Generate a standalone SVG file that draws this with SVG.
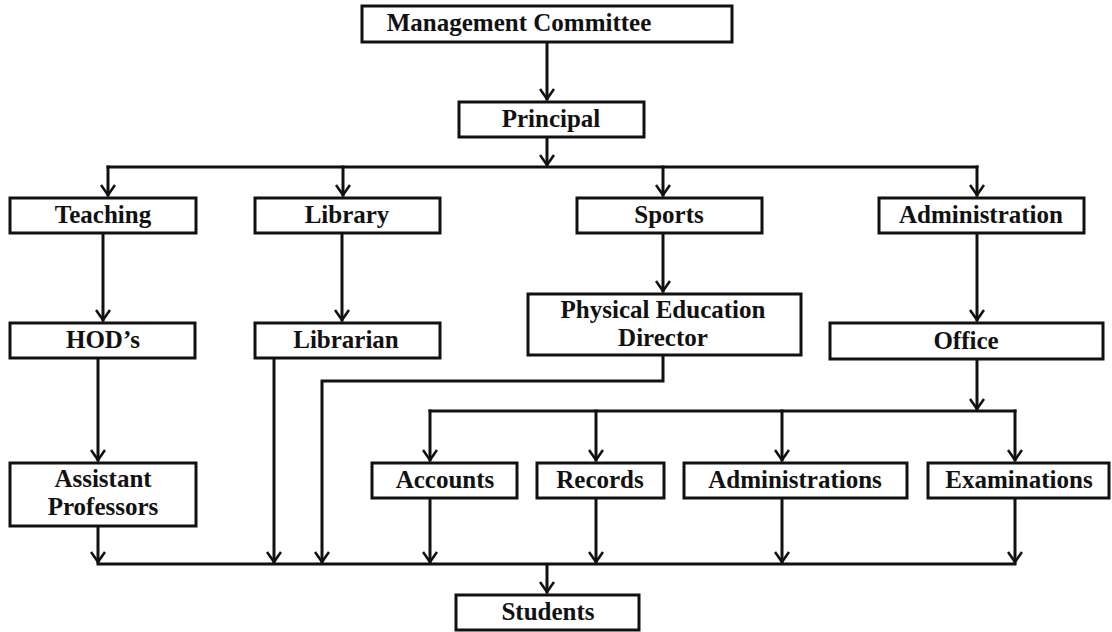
<svg xmlns="http://www.w3.org/2000/svg" width="1112" height="632" viewBox="0 0 1112 632">
<style>
.box{fill:#fff;stroke:#111;stroke-width:3}
.t{font-family:"Liberation Serif","Times New Roman",serif;font-weight:bold;font-size:25px;fill:#111;text-anchor:middle}
.c{fill:none;stroke:#111;stroke-width:3;stroke-linecap:square}
.a{marker-end:url(#arr)}
</style>
<defs>
<marker id="arr" markerUnits="userSpaceOnUse" viewBox="0 0 14 16" refX="12" refY="8" markerWidth="14" markerHeight="16" orient="auto">
<path d="M2,1 L12,8 L2,15" fill="none" stroke="#111" stroke-width="2.6" stroke-linejoin="miter"/>
</marker>
</defs>
<rect width="1112" height="632" fill="#fff"/>
<g id="connectors">
<path class="c a" d="M547,43 V99"/>
<path class="c a" d="M547,138 V165"/>
<path class="c" d="M108,167 H977"/>
<path class="c a" d="M108,167 V195"/>
<path class="c a" d="M343,167 V195"/>
<path class="c a" d="M663,167 V195"/>
<path class="c a" d="M977,167 V195"/>
<path class="c a" d="M103,234 V320"/>
<path class="c a" d="M342,234 V320"/>
<path class="c a" d="M663,234 V291"/>
<path class="c a" d="M977,234 V320"/>
<path class="c a" d="M98,359 V460"/>
<path class="c a" d="M977,360 V409"/>
<path class="c" d="M430,411 H1015"/>
<path class="c a" d="M430,411 V460"/>
<path class="c a" d="M596,411 V460"/>
<path class="c a" d="M782,411 V460"/>
<path class="c a" d="M1015,411 V460"/>
<path class="c a" d="M98,527 V562"/>
<path class="c a" d="M274,359 V562"/>
<path class="c a" d="M663,356 V381 H322 V562"/>
<path class="c a" d="M430,499 V562"/>
<path class="c a" d="M596,499 V562"/>
<path class="c a" d="M782,499 V562"/>
<path class="c a" d="M1015,499 V562"/>
<path class="c" d="M98,564 H1015"/>
<path class="c a" d="M547,565 V592"/>
</g>
<g id="management-committee"><rect class="box" x="362" y="6" width="370" height="36"/><text class="t" x="519" y="31">Management Committee</text></g>
<g id="principal"><rect class="box" x="459" y="102" width="185" height="35"/><text class="t" x="551" y="127">Principal</text></g>
<g id="teaching"><rect class="box" x="10" y="198" width="186" height="35"/><text class="t" x="103" y="223">Teaching</text></g>
<g id="library"><rect class="box" x="255" y="198" width="185" height="35"/><text class="t" x="347" y="223">Library</text></g>
<g id="sports"><rect class="box" x="577" y="198" width="185" height="35"/><text class="t" x="669" y="223">Sports</text></g>
<g id="administration"><rect class="box" x="879" y="198" width="205" height="35"/><text class="t" x="981" y="223">Administration</text></g>
<g id="hods"><rect class="box" x="10" y="323" width="185" height="35"/><text class="t" x="103" y="348">HOD’s</text></g>
<g id="librarian"><rect class="box" x="255" y="323" width="185" height="35"/><text class="t" x="346" y="348">Librarian</text></g>
<g id="physical-education-director"><rect class="box" x="528" y="294" width="273" height="61"/><text class="t" x="663" y="318">Physical Education</text><text class="t" x="663" y="346">Director</text></g>
<g id="office"><rect class="box" x="830" y="323" width="273" height="36"/><text class="t" x="966" y="349">Office</text></g>
<g id="assistant-professors"><rect class="box" x="10" y="463" width="186" height="63"/><text class="t" x="103" y="487">Assistant</text><text class="t" x="103" y="515">Professors</text></g>
<g id="accounts"><rect class="box" x="372" y="463" width="145" height="35"/><text class="t" x="445" y="488">Accounts</text></g>
<g id="records"><rect class="box" x="537" y="463" width="127" height="35"/><text class="t" x="600" y="488">Records</text></g>
<g id="administrations"><rect class="box" x="684" y="463" width="223" height="35"/><text class="t" x="795" y="488">Administrations</text></g>
<g id="examinations"><rect class="box" x="928" y="463" width="181" height="35"/><text class="t" x="1019" y="488">Examinations</text></g>
<g id="students"><rect class="box" x="456" y="595" width="183" height="35"/><text class="t" x="548" y="620">Students</text></g>
</svg>
